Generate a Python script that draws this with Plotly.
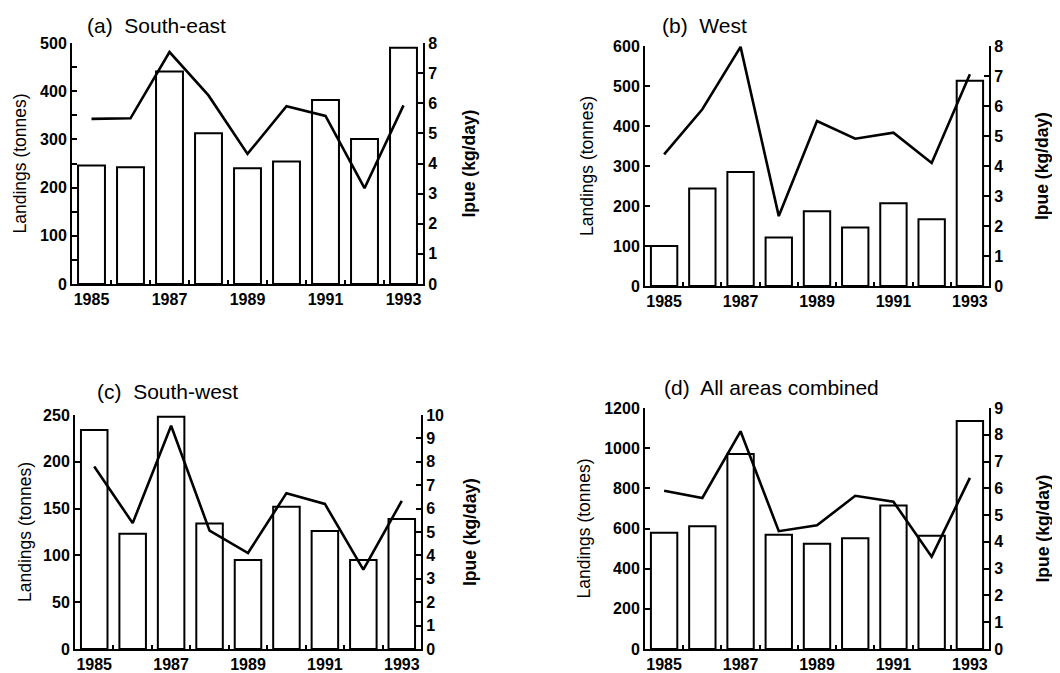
import plotly.graph_objects as go

years = [1985, 1986, 1987, 1988, 1989, 1990, 1991, 1992, 1993]
year_labels = ["1985", "1987", "1989", "1991", "1993"]
label_years = [1985, 1987, 1989, 1991, 1993]

titles = ["(a)  South-east", "(b)  West", "(c)  South-west", "(d)  All areas combined"]

landings_se = [246, 242, 441, 313, 240, 254, 382, 301, 490]
lpue_se = [5.48, 5.5, 7.7, 6.26, 4.32, 5.9, 5.58, 3.18, 5.93]

landings_w = [100, 244, 285, 121, 187, 146, 207, 167, 513]
lpue_w = [4.39, 5.89, 7.97, 2.33, 5.5, 4.91, 5.11, 4.1, 7.06]

landings_sw = [234, 123, 248, 134, 95, 152, 126, 95, 139]
lpue_sw = [7.8, 5.38, 9.54, 5.06, 4.1, 6.66, 6.2, 3.39, 6.33]

landings_all = [579, 611, 971, 569, 524, 551, 714, 564, 1135]
lpue_all = [5.91, 5.64, 8.13, 4.4, 4.62, 5.72, 5.5, 3.45, 6.39]

left_max = [500, 600, 250, 1200]
left_dtick = [100, 100, 50, 200]
left_minor = [50, None, None, None]
right_max = [8, 8, 10, 9]

# page is 1060x673; the html body has an 8px margin at the left and top
PAD = 8
W, H = 1060 - 2 * PAD, 673 - PAD
# pixel boxes in page coordinates: (left, right, top, bottom)
boxes = [(72, 423, 43, 284), (645, 989, 46, 286), (75, 421, 415, 649), (645, 989, 408, 649)]
title_pos = [(85, 25), (660, 25), (95, 392), (662, 387)]
left_title_x = [19, 587, 25, 583]
right_title_x = [468, 1042, 470, 1042]

landings = [landings_se, landings_w, landings_sw, landings_all]
lpue = [lpue_se, lpue_w, lpue_sw, lpue_all]

FONT = "Liberation Sans, Arial, Helvetica, sans-serif"


def px(x):
    return (x - PAD) / W


def py(y):
    return (H - (y - PAD)) / H


fig = go.Figure()
layout = dict(
    template="none",
    width=W, height=H,
    margin=dict(l=0, r=0, t=0, b=0, pad=0, autoexpand=False),
    paper_bgcolor="white", plot_bgcolor="white",
    showlegend=False,
    font=dict(family=FONT, color="black"),
    annotations=[],
)

for k in range(4):
    i = k + 1
    xa = f"x{i}"
    yl = f"y{2*k+1}"
    yr = f"y{2*k+2}"
    l, r, t, b = boxes[k]
    xdom = [px(l), px(r)]
    ydom = [py(b), py(t)]

    fig.add_trace(go.Bar(
        x=years, y=landings[k], width=0.69,
        marker=dict(color="white", line=dict(color="black", width=2)),
        xaxis=xa, yaxis=yl,
    ))
    fig.add_trace(go.Scatter(
        x=years, y=lpue[k], mode="lines",
        line=dict(color="black", width=2.6),
        xaxis=xa, yaxis=yr,
    ))

    xname = "xaxis" if i == 1 else f"xaxis{i}"
    ylname = "yaxis" if 2*k+1 == 1 else f"yaxis{2*k+1}"
    yrname = f"yaxis{2*k+2}"

    layout[xname] = dict(
        domain=xdom, anchor=yl, range=[1984.5, 1993.5], automargin=False,
        showline=True, linewidth=2, linecolor="black",
        showgrid=False, zeroline=False,
        tickmode="array", tickvals=label_years, ticktext=year_labels,
        ticks="", ticklen=0,
        tickfont=dict(size=16, family=FONT, weight="bold"),
        minor=dict(tickmode="array", tickvals=[y + 0.5 for y in years[:-1]],
                   ticks="inside", ticklen=4, tickwidth=2, tickcolor="black",
                   showgrid=False),
        fixedrange=True,
    )
    yl_cfg = dict(
        domain=ydom, anchor=xa, range=[0, left_max[k]], side="left", automargin=False,
        showline=True, linewidth=2, linecolor="black",
        showgrid=False, zeroline=False,
        dtick=left_dtick[k], tick0=0,
        ticks="inside", ticklen=5, tickwidth=2, tickcolor="black",
        tickfont=dict(size=16, family=FONT, weight="bold"),
        fixedrange=True,
    )
    if left_minor[k]:
        yl_cfg["minor"] = dict(dtick=left_minor[k], tick0=0, ticks="inside",
                               ticklen=5, tickwidth=2, tickcolor="black",
                               showgrid=False)
    layout[ylname] = yl_cfg
    layout[yrname] = dict(
        overlaying=yl, anchor=xa, side="right", range=[0, right_max[k]], automargin=False,
        showline=True, linewidth=2, linecolor="black",
        showgrid=False, zeroline=False,
        dtick=1, tick0=0,
        ticks="inside", ticklen=5, tickwidth=2, tickcolor="black",
        tickfont=dict(size=16, family=FONT, weight="bold"),
        fixedrange=True,
    )

    tx, ty = title_pos[k]
    layout["annotations"].append(dict(
        x=px(tx), y=py(ty), xref="paper", yref="paper",
        xanchor="left", yanchor="middle", showarrow=False,
        text=titles[k], font=dict(size=21, family=FONT, color="black"),
    ))
    yc = py((t + b) / 2)
    layout["annotations"].append(dict(
        x=px(left_title_x[k]), y=yc, xref="paper", yref="paper",
        xanchor="center", yanchor="middle", showarrow=False, textangle=-90,
        text="Landings (tonnes)", font=dict(size=17.5, family=FONT, color="black"),
    ))
    layout["annotations"].append(dict(
        x=px(right_title_x[k]), y=yc, xref="paper", yref="paper",
        xanchor="center", yanchor="middle", showarrow=False, textangle=-90,
        text="Ipue (kg/day)", font=dict(size=17.5, family=FONT, color="black", weight="bold"),
    ))

fig.update_layout(**layout)
fig.write_html("out.html")
